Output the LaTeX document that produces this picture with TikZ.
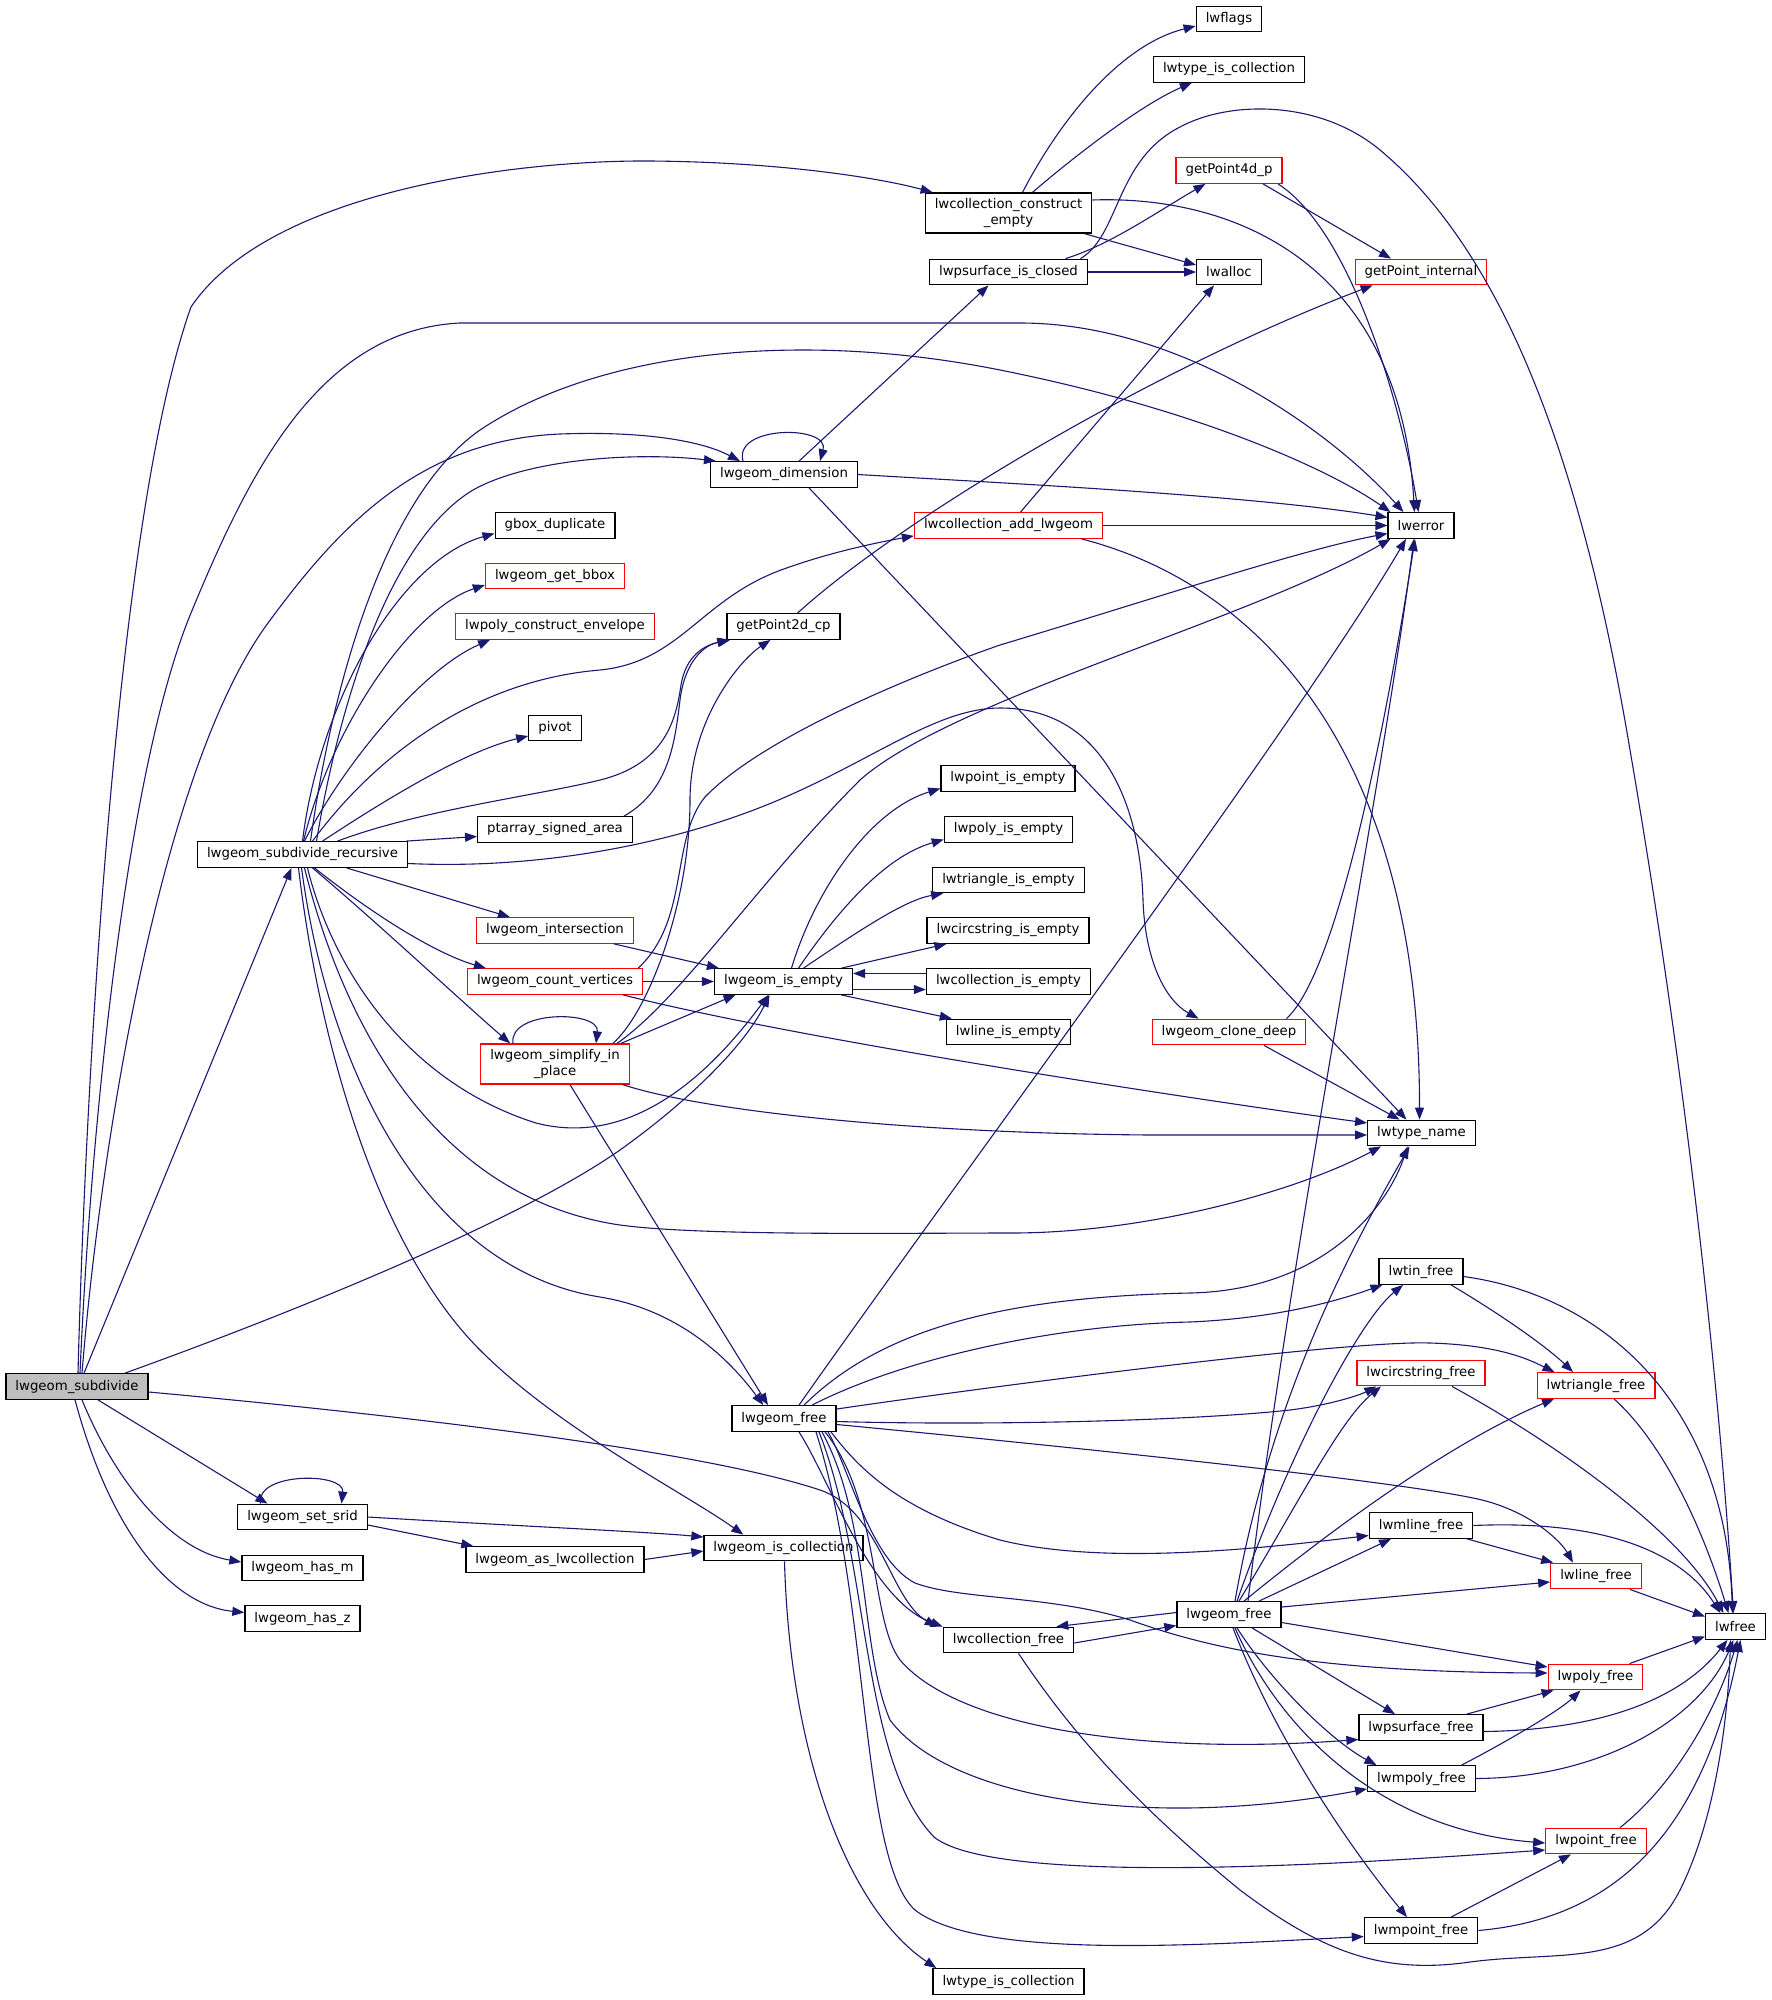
\documentclass[tikz,border=0pt]{standalone}
\usepackage{fontspec}
\setmainfont{DejaVu Sans}
\usetikzlibrary{arrows.meta}
\definecolor{edgeblue}{RGB}{25,25,112}
\definecolor{grayfill}{RGB}{191,191,191}
\tikzset{
  box/.style={draw=black, line width=1.3pt, fill=white, inner xsep=9.5pt, inner ysep=0pt,
    minimum height=25.5pt, font=\fontsize{13.3pt}{15.5pt}\selectfont},
  redbox/.style={box, draw=red},
  twoline/.style={align=center, minimum height=40pt},
  ln/.style={draw=edgeblue, line width=1.1pt, -{Triangle[length=12pt,width=9pt]}}
}
\begin{document}
\begin{tikzpicture}[x=1pt,y=-1pt]
\useasboundingbox (0,0) rectangle (1772,2000);

% ---------- nodes ----------
\node[box,fill=grayfill] (S) at (77,1386.5) {lwgeom\_subdivide};
\node[box] (R) at (302.5,854.5) {lwgeom\_subdivide\_recursive};
\node[box,twoline] (CE) at (1008.5,213) {lwcollection\_construct\\\_empty};
\node[box] (FL) at (1229,19) {lwflags};
\node[box] (TIC1) at (1229,69.5) {lwtype\_is\_collection};
\node[redbox] (G4) at (1229,170.5) {getPoint4d\_p};
\node[box] (PSC) at (1008.5,272) {lwpsurface\_is\_closed};
\node[box] (AL) at (1229,272) {lwalloc};
\node[redbox] (GPI) at (1421,272) {getPoint\_internal};
\node[box] (DIM) at (784,474.5) {lwgeom\_dimension};
\node[box] (ERR) at (1421,525.5) {lwerror};
\node[redbox] (CAL) at (1008.5,525.5) {lwcollection\_add\_lwgeom};
\node[box] (GBD) at (555,525.5) {gbox\_duplicate};
\node[redbox] (GBB) at (555,576) {lwgeom\_get\_bbox};
\node[redbox] (PCE) at (555,626.5) {lwpoly\_construct\_envelope};
\node[box] (G2) at (783.5,626.5) {getPoint2d\_cp};
\node[box] (PIV) at (555,728) {pivot};
\node[box] (PSA) at (555,829.5) {ptarray\_signed\_area};
\node[box] (PIE) at (1008,778.5) {lwpoint\_is\_empty};
\node[box] (PLE) at (1008.5,829.5) {lwpoly\_is\_empty};
\node[box] (TRE) at (1008.5,880) {lwtriangle\_is\_empty};
\node[box] (CSE) at (1008,930.5) {lwcircstring\_is\_empty};
\node[box] (CLE) at (1008.5,981.5) {lwcollection\_is\_empty};
\node[box] (ISE) at (783.5,981.5) {lwgeom\_is\_empty};
\node[redbox] (INT) at (555,930.5) {lwgeom\_intersection};
\node[redbox] (CV) at (555,981.5) {lwgeom\_count\_vertices};
\node[redbox,twoline] (SIM) at (555,1064) {lwgeom\_simplify\_in\\\_place};
\node[box] (LIE) at (1008.5,1032) {lwline\_is\_empty};
\node[redbox] (CD) at (1229,1032) {lwgeom\_clone\_deep};
\node[box] (TN) at (1421.5,1133) {lwtype\_name};
\node[box] (F1) at (784,1418.5) {lwgeom\_free};
\node[box] (TINF) at (1421,1271.5) {lwtin\_free};
\node[redbox] (CSF) at (1421,1373) {lwcircstring\_free};
\node[redbox] (TRF) at (1596,1385.5) {lwtriangle\_free};
\node[box] (SRID) at (302.5,1517) {lwgeom\_set\_srid};
\node[box] (HM) at (302.5,1568) {lwgeom\_has\_m};
\node[box] (HZ) at (302.5,1618.5) {lwgeom\_has\_z};
\node[box] (ASC) at (555,1559.5) {lwgeom\_as\_lwcollection};
\node[box] (ISC) at (783.5,1548) {lwgeom\_is\_collection};
\node[box] (MLF) at (1421,1525.5) {lwmline\_free};
\node[redbox] (LF) at (1596,1576) {lwline\_free};
\node[box] (F2) at (1229,1614.5) {lwgeom\_free};
\node[box] (CF) at (1008.5,1640) {lwcollection\_free};
\node[box] (LWF) at (1735.5,1626.5) {lwfree};
\node[redbox] (PF) at (1595.5,1677) {lwpoly\_free};
\node[box] (PSF) at (1421,1727.5) {lwpsurface\_free};
\node[box] (MPF) at (1421.5,1778.5) {lwmpoly\_free};
\node[redbox] (PTF) at (1596,1841) {lwpoint\_free};
\node[box] (MPTF) at (1421,1930.5) {lwmpoint\_free};
\node[box] (TIC2) at (1008.5,1981.5) {lwtype\_is\_collection};

% ---------- edges from lwgeom_subdivide ----------
\draw[ln] ([xshift=1]S.north) .. controls (85,1100) and (115,520) .. (191,307) .. controls (270,190) and (520,160) .. (650,161) .. controls (780,162) and (880,178) .. ([xshift=8]CE.north west);
\draw[ln] ([xshift=3]S.north) .. controls (92,1100) and (130,760) .. (191,613) .. controls (250,470) and (320,330) .. (460,323) -- (1020,323) .. controls (1180,323) and (1330,430) .. ([xshift=16]ERR.north west);
\draw[ln] ([xshift=5]S.north) .. controls (100,1150) and (160,770) .. (268,623) .. controls (340,525) and (420,440) .. (560,434) .. controls (640,431) and (700,440) .. ([xshift=30]DIM.north west);
\draw[ln] ([xshift=7]S.north) -- ([xshift=-11]R.south);
\draw[ln] ([xshift=48]S.north) .. controls (300,1310) and (520,1220) .. (620,1150) .. controls (690,1100) and (745,1045) .. ([xshift=-14]ISE.south);
\draw[ln] ([yshift=-5.5]S.east) .. controls (400,1415) and (700,1450) .. (820,1490) .. controls (880,1510) and (890,1600) .. ([xshift=-6]CF.north west);
\draw[ln] ([xshift=21]S.south) -- ([xshift=-35]SRID.north);
\draw[ln] ([xshift=5]S.south) .. controls (115,1480) and (170,1550) .. ([yshift=6]HM.west);
\draw[ln] ([xshift=-2]S.south) .. controls (110,1530) and (170,1605) .. ([yshift=6]HZ.west);

% ---------- edges from lwgeom_subdivide_recursive ----------
\draw[ln] (R.north) .. controls (320,700) and (400,560) .. ([yshift=-8]GBD.west);
\draw[ln] ([xshift=1]R.north) .. controls (330,730) and (410,610) .. ([yshift=-9]GBB.west);
\draw[ln] ([xshift=2]R.north) .. controls (340,770) and (420,670) .. ([xshift=35]PCE.south west);
\draw[ln] ([xshift=10]R.north) .. controls (380,750) and (480,680) .. (600,670) .. controls (680,662) and (700,600) .. (781,570) .. controls (830,552) and (880,542) .. ([yshift=3]CAL.south west);
\draw[ln] ([xshift=20]R.north) .. controls (400,790) and (470,750) .. ([yshift=-8]PIV.west);
\draw[ln] ([xshift=-2]R.north east) -- ([yshift=-7]PSA.west);
\draw[ln] ([xshift=35]R.north) .. controls (420,810) and (540,795) .. (600,780) .. controls (665,764) and (676,720) .. (681,685) .. controls (686,655) and (705,645) .. ([xshift=4]G2.south west);
\draw[ln] ([xshift=8]R.north) .. controls (330,700) and (380,500) .. (480,430) .. controls (600,350) and (800,330) .. (1000,370) .. controls (1200,410) and (1330,470) .. ([xshift=3]ERR.north west);
\draw[ln] ([xshift=14]R.north) .. controls (340,700) and (390,540) .. (473,490) .. controls (530,458) and (640,452) .. ([xshift=6]DIM.north west);
\draw[ln] ([yshift=-9]R.east) .. controls (550,870) and (690,840) .. (790,795) .. controls (880,755) and (940,708) .. (1000,708) .. controls (1100,708) and (1140,800) .. (1143,900) .. controls (1145,960) and (1165,1000) .. ([xshift=47]CD.north west);
\draw[ln] ([xshift=44]R.south) -- ([xshift=34]INT.north west);
\draw[ln] ([xshift=12]R.south) .. controls (380,920) and (440,955) .. ([xshift=19]CV.north west);
\draw[ln] ([xshift=10]R.south) .. controls (380,925) and (460,1000) .. ([xshift=30]SIM.north west);
\draw[ln] ([xshift=5]R.south) .. controls (330,960) and (400,1080) .. (536,1123) .. controls (640,1150) and (720,1060) .. ([xshift=-15]ISE.south);
\draw[ln] ([xshift=2]R.south) .. controls (350,1050) and (450,1200) .. (620,1225) .. controls (700,1236) and (900,1233) .. (1011,1233) .. controls (1150,1233) and (1300,1190) .. ([xshift=14]TN.south west);
\draw[ln] ([xshift=-1]R.south) .. controls (330,1080) and (430,1270) .. (600,1297) .. controls (680,1310) and (730,1360) .. ([xshift=32]F1.north west);
\draw[ln] ([xshift=-4]R.south) .. controls (320,1050) and (380,1250) .. (480,1350) .. controls (560,1430) and (680,1490) .. ([xshift=40]ISC.north west);

% ---------- lwgeom_dimension ----------
\draw[ln] ([xshift=-41]DIM.north) .. controls (733,425) and (830,425) .. ([xshift=36]DIM.north);
\draw[ln] ([xshift=15]DIM.north) -- ([xshift=-20]PSC.south);
\draw[ln] (DIM.east) .. controls (1000,483) and (1250,495) .. ([yshift=8]ERR.west);
\draw[ln] ([xshift=25]DIM.south) -- ([xshift=-15]TN.north);

% ---------- lwcollection_construct_empty ----------
\draw[ln] ([xshift=14]CE.north) .. controls (1060,120) and (1120,45) .. ([yshift=-7]FL.west);
\draw[ln] ([xshift=24]CE.north) .. controls (1070,160) and (1140,105) .. ([xshift=39]TIC1.south west);
\draw[ln] ([yshift=13]CE.east) .. controls (1230,195) and (1400,260) .. ([xshift=27]ERR.north west);
\draw[ln] ([xshift=-8]CE.south east) -- ([yshift=7]AL.west);

% ---------- lwpsurface_is_closed ----------
\draw[ln] (PSC.east) -- (AL.west);
\draw[ln] ([xshift=57]PSC.north) .. controls (1110,245) and (1160,210) .. ([xshift=30]G4.south west);
\draw[ln] ([xshift=72]PSC.north) .. controls (1120,235) and (1115,160) .. (1180,127) .. controls (1230,100) and (1320,100) .. (1380,150) .. controls (1500,250) and (1580,450) .. (1630,750) .. controls (1690,1100) and (1720,1400) .. ([xshift=-2]LWF.north);

% ---------- getPoint4d_p, getPoint2d_cp, ptarray ----------
\draw[ln] ([xshift=34]G4.south) -- ([xshift=-30]GPI.north);
\draw[ln] ([xshift=49]G4.south) .. controls (1350,230) and (1400,400) .. ([xshift=31]ERR.north west);
\draw[ln] ([xshift=14]G2.north) .. controls (900,520) and (1150,370) .. ([xshift=18]GPI.south west);
\draw[ln] ([xshift=69]PSA.north) .. controls (670,790) and (675,740) .. (680,700) .. controls (685,660) and (705,645) .. ([xshift=3]G2.south west);

% ---------- lwcollection_add_lwgeom ----------
\draw[ln] ([xshift=12]CAL.north) -- ([xshift=-15]AL.south);
\draw[ln] (CAL.east) -- (ERR.west);
\draw[ln] ([xshift=73]CAL.south) .. controls (1280,590) and (1420,780) .. ([xshift=-2]TN.north);

% ---------- lwgeom_is_empty ----------
\draw[ln] ([xshift=8]ISE.north) .. controls (815,890) and (870,810) .. ([yshift=-10]PIE.west);
\draw[ln] ([xshift=15]ISE.north) .. controls (845,900) and (890,855) .. ([yshift=-10]PLE.west);
\draw[ln] ([xshift=20]ISE.north) .. controls (860,930) and (905,900) .. ([xshift=11]TRE.south west);
\draw[ln] ([xshift=58]ISE.north) -- ([xshift=20]CSE.south west);
\draw[ln] ([yshift=-8]ISE.east) -- ([yshift=-8]CLE.west);
\draw[ln] ([yshift=8]CLE.west) -- ([yshift=8]ISE.east);
\draw[ln] ([xshift=-12]ISE.south east) -- ([xshift=6]LIE.north west);

% ---------- intersection, count_vertices ----------
\draw[ln] ([xshift=-20]INT.south east) -- ([xshift=5]ISE.north west);
\draw[ln] (CV.east) -- (ISE.west);
\draw[ln] ([xshift=-20]CV.south east) .. controls (800,1040) and (1200,1100) .. ([yshift=10]TN.west);
\draw[ln] ([xshift=-5]CV.north east) .. controls (690,920) and (670,840) .. (705,797) .. controls (760,740) and (900,680) .. (1000,645) .. controls (1150,600) and (1300,550) .. ([yshift=-8]ERR.west);

% ---------- lwgeom_simplify_in_place ----------
\draw[ln] ([xshift=-42]SIM.north) .. controls (508,1010) and (600,1010) .. ([xshift=41]SIM.north);
\draw[ln] ([xshift=58]SIM.north) .. controls (650,1010) and (690,900) .. (690,800) .. controls (690,720) and (740,660) .. ([xshift=-13]G2.south);
\draw[ln] ([xshift=62]SIM.north) .. controls (680,1000) and (760,880) .. (860,780) .. controls (950,700) and (1250,620) .. ([xshift=3]ERR.south west);
\draw[ln] ([xshift=66]SIM.north) -- ([xshift=-48]ISE.south);
\draw[ln] ([xshift=15]SIM.south) -- ([xshift=-16]F1.north);
\draw[ln] ([xshift=-7]SIM.south east) .. controls (700,1110) and (900,1133) .. (1150,1135) -- ([yshift=-2]TN.west);

% ---------- lwgeom_clone_deep ----------
\draw[ln] ([xshift=-20]CD.north east) .. controls (1340,970) and (1390,700) .. ([xshift=-6]ERR.south);
\draw[ln] ([xshift=35]CD.south) -- ([xshift=-22]TN.north);

% ---------- lwgeom_free (first) ----------
\draw[ln] ([xshift=15]F1.north) .. controls (950,1190) and (1300,720) .. ([xshift=-15]ERR.south);
\draw[ln] ([xshift=20]F1.north) .. controls (880,1330) and (1000,1297) .. (1190,1293) .. controls (1330,1290) and (1390,1200) .. ([xshift=-14]TN.south);
\draw[ln] ([xshift=28]F1.north) .. controls (900,1360) and (1050,1325) .. (1190,1322) .. controls (1280,1318) and (1340,1300) .. ([xshift=4]TINF.south west);
\draw[ln] ([yshift=9.5]F1.east) .. controls (1000,1385) and (1350,1340) .. (1430,1343) .. controls (1500,1345) and (1530,1360) .. ([xshift=18]TRF.north west);
\draw[ln] ([yshift=-3]F1.east) .. controls (1000,1426) and (1200,1420) .. (1290,1410) .. controls (1330,1405) and (1360,1395) .. ([xshift=20]CSF.south west);
\draw[ln] ([yshift=-6]F1.east) .. controls (1000,1440) and (1400,1480) .. (1482,1500) .. controls (1530,1512) and (1560,1540) .. ([xshift=-23]LF.north);
\draw[ln] ([xshift=47]F1.south) .. controls (860,1470) and (900,1510) .. (1000,1540) .. controls (1100,1565) and (1250,1550) .. ([yshift=-10]MLF.west);
\draw[ln] ([xshift=44]F1.south) .. controls (850,1470) and (870,1560) .. (915,1583) .. controls (960,1600) and (1050,1595) .. (1130,1620) .. controls (1200,1645) and (1300,1672) .. ([yshift=4]PF.west);
\draw[ln] ([xshift=41]F1.south) .. controls (880,1500) and (870,1620) .. (900,1660) .. controls (960,1730) and (1150,1755) .. ([yshift=-12]PSF.west);
\draw[ln] ([xshift=38]F1.south) .. controls (870,1520) and (860,1650) .. (890,1720) .. controls (950,1800) and (1150,1830) .. ([yshift=3]MPF.south west);
\draw[ln] ([xshift=35]F1.south) .. controls (870,1560) and (860,1760) .. (934,1837) .. controls (1000,1890) and (1400,1860) .. ([yshift=-9]PTF.west);
\draw[ln] ([xshift=32]F1.south) .. controls (870,1600) and (860,1860) .. (915,1910) .. controls (980,1960) and (1200,1945) .. ([yshift=-6]MPTF.west);
\draw[ln] ([xshift=15]F1.south) .. controls (830,1480) and (870,1600) .. (CF.north west);

% ---------- lwgeom_free (second) ----------
\draw[ln] ([xshift=19]F2.north) .. controls (1290,1250) and (1380,800) .. ([xshift=-7]ERR.south);
\draw[ln] ([xshift=6]F2.north) .. controls (1270,1400) and (1350,1250) .. ([xshift=-12]TN.south);
\draw[ln] ([xshift=8]F2.north) .. controls (1290,1450) and (1360,1320) .. ([xshift=-18]TINF.south);
\draw[ln] ([xshift=10]F2.north) .. controls (1300,1500) and (1340,1420) .. ([xshift=-40]CSF.south);
\draw[ln] ([xshift=15]F2.north) .. controls (1380,1490) and (1480,1430) .. ([xshift=-42]TRF.south);
\draw[ln] ([xshift=30]F2.north) -- ([xshift=-30]MLF.south);
\draw[ln] ([yshift=7.5]F2.east) -- ([yshift=-6]LF.west);
\draw[ln] ([yshift=-8]F2.east) -- ([yshift=10]PF.west);
\draw[ln] ([xshift=23]F2.south) -- ([xshift=-26]PSF.north);
\draw[ln] ([xshift=8]F2.south) .. controls (1270,1680) and (1330,1740) .. ([xshift=-45]MPF.north);
\draw[ln] ([xshift=6]F2.south) .. controls (1280,1730) and (1380,1830) .. ([yshift=-2]PTF.west);
\draw[ln] ([xshift=4]F2.south) .. controls (1280,1750) and (1360,1860) .. ([xshift=-14]MPTF.north);
\draw[ln] ([yshift=2]F2.west) -- ([xshift=-18]CF.north east);

% ---------- lwcollection_free ----------
\draw[ln] ([yshift=-3]CF.east) -- ([yshift=-11]F2.west);
\draw[ln] ([xshift=10]CF.south) .. controls (1070,1730) and (1130,1800) .. (1240,1890) .. controls (1320,1950) and (1380,1975) .. (1470,1962) .. controls (1560,1950) and (1640,1970) .. (1680,1890) .. controls (1715,1820) and (1728,1720) .. ([xshift=-5]LWF.south);

% ---------- free functions to lwfree ----------
\draw[ln] ([yshift=-5]TINF.east) .. controls (1600,1295) and (1725,1400) .. ([xshift=-3]LWF.north);
\draw[ln] ([xshift=30]TINF.south) .. controls (1510,1320) and (1550,1350) .. ([xshift=-23]TRF.north);
\draw[ln] ([xshift=31]CSF.south) .. controls (1550,1440) and (1680,1530) .. ([xshift=-12]LWF.north);
\draw[ln] ([xshift=18]TRF.south) .. controls (1660,1440) and (1700,1520) .. ([xshift=-7]LWF.north);
\draw[ln] (MLF.east) .. controls (1600,1520) and (1680,1550) .. ([xshift=-15]LWF.north);
\draw[ln] ([xshift=46]MLF.south) -- ([xshift=3]LF.north west);
\draw[ln] ([xshift=-12]LF.south east) -- ([yshift=10]LWF.west);
\draw[ln] ([xshift=-14]PF.north east) -- ([yshift=-10]LWF.west);
\draw[ln] ([xshift=-17]PSF.north east) -- ([xshift=6]PF.south west);
\draw[ln] ([yshift=-4]PSF.east) .. controls (1600,1730) and (1680,1700) .. ([xshift=-8]LWF.south);
\draw[ln] ([xshift=40]MPF.north) .. controls (1510,1740) and (1560,1710) .. ([xshift=-15]PF.south);
\draw[ln] (MPF.east) .. controls (1600,1778) and (1700,1720) .. ([xshift=-2]LWF.south);
\draw[ln] ([xshift=24]PTF.north) .. controls (1680,1780) and (1720,1700) .. ([xshift=2]LWF.south);
\draw[ln] ([xshift=30]MPTF.north) -- ([xshift=-25]PTF.south);
\draw[ln] (MPTF.east) .. controls (1600,1920) and (1700,1850) .. ([xshift=5]LWF.south);

% ---------- set_srid, as_lwcollection, is_collection ----------
\draw[ln] ([xshift=-42]SRID.north) .. controls (255,1472) and (345,1472) .. ([xshift=39]SRID.north);
\draw[ln] (SRID.east) .. controls (500,1525) and (650,1532) .. ([yshift=11]ISC.west);
\draw[ln] ([yshift=-8]SRID.east) -- ([xshift=8]ASC.north west);
\draw[ln] (ASC.east) -- ([yshift=-3]ISC.west);
\draw[ln] ([xshift=1]ISC.south) .. controls (790,1760) and (850,1910) .. ([xshift=4]TIC2.north west);

\end{tikzpicture}
\end{document}
